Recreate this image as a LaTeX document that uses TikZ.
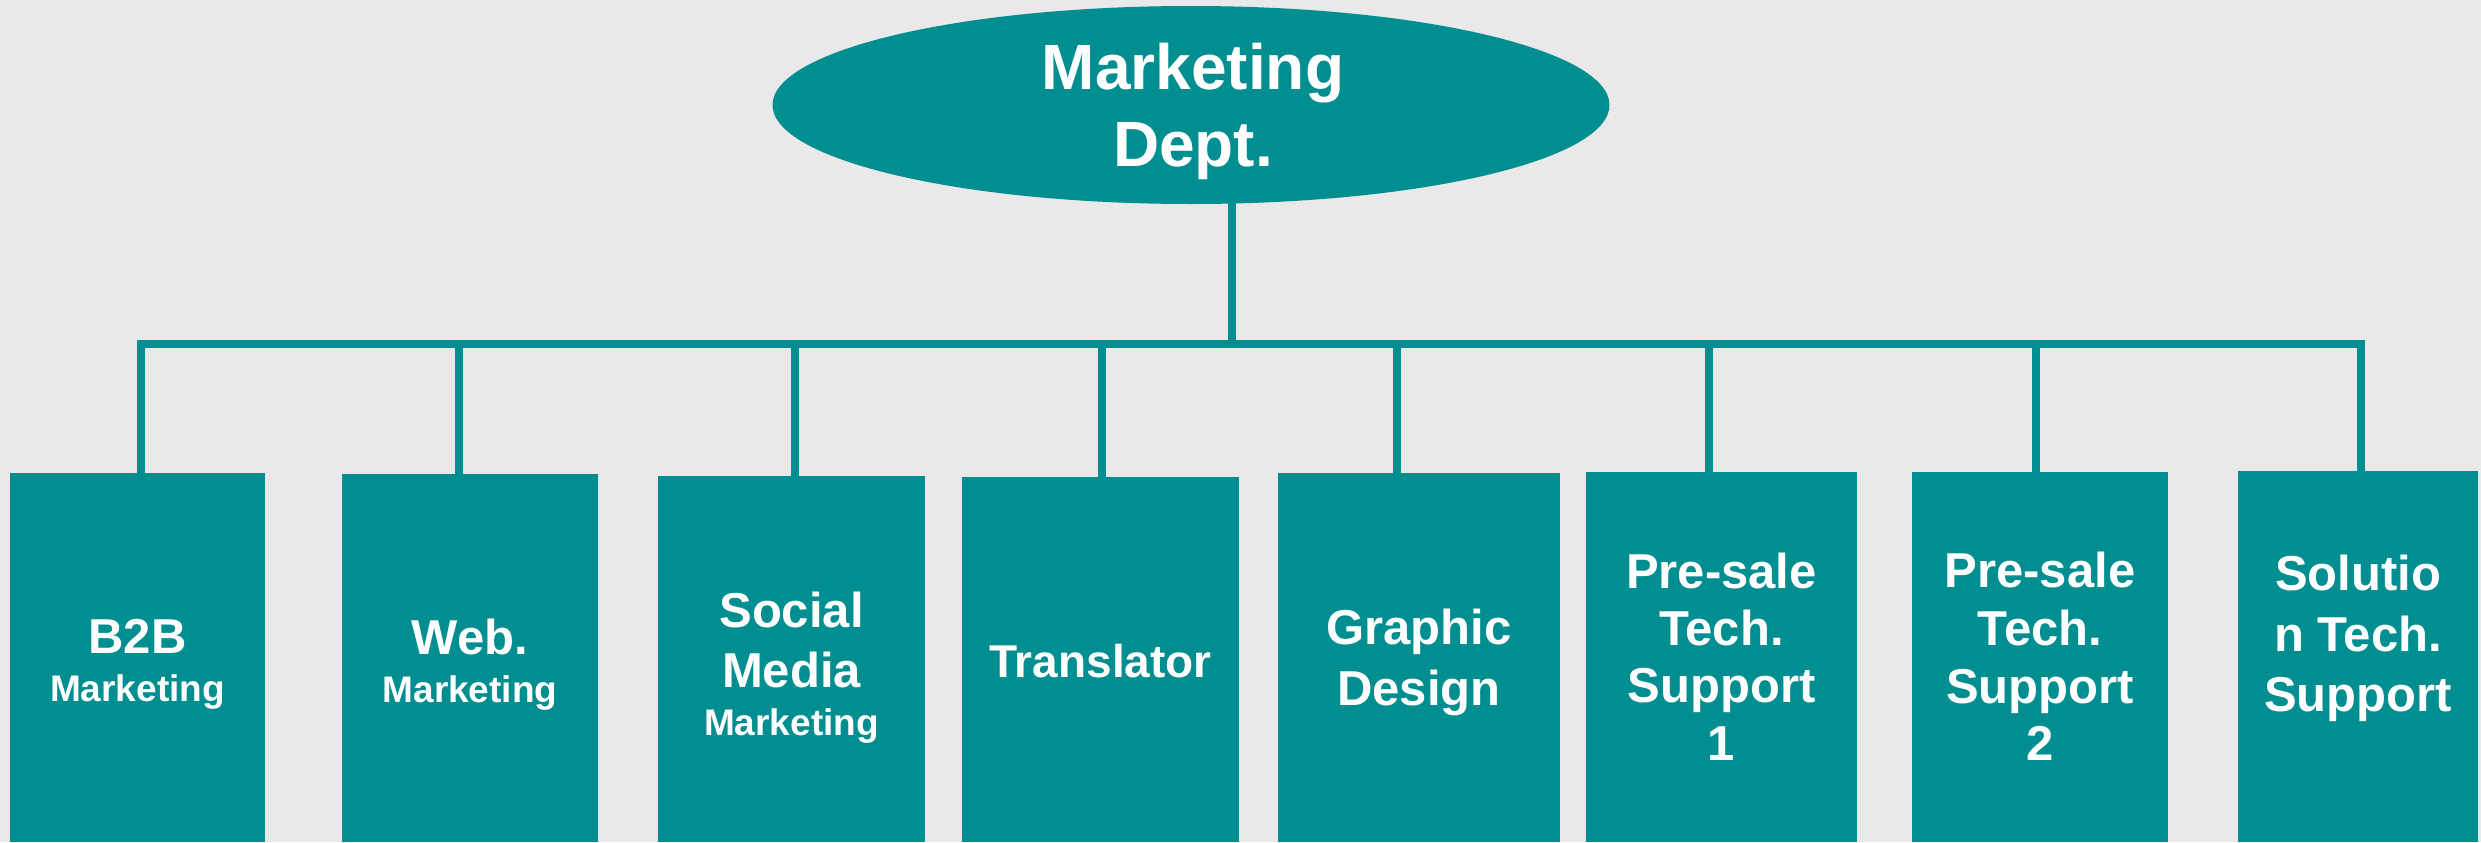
\documentclass[tikz,border=0pt]{standalone}
\usepackage{fontspec}
\setmainfont{Liberation Sans}
\usetikzlibrary{shapes.geometric}
\definecolor{tealbox}{RGB}{0,142,144}
\definecolor{pagebg}{RGB}{233,233,233}
\newcommand\orgbox[5]{\node[unitbox, minimum width={(#4-#2)*0.3pt}, minimum height={(#5-#3)*0.3pt}] (#1) at (#2,#3) {};}
\newcommand\bigtxt{\fontsize{14.7}{14.7}\selectfont\bfseries}
\newcommand\smalltxt{\fontsize{11.1}{11.1}\selectfont\bfseries}
\begin{document}
\begin{tikzpicture}[x=0.3pt,y=-0.3pt,
  unitbox/.style={rectangle, fill=tealbox, draw=none, inner sep=0pt, outer sep=0pt, anchor=north west},
  rootshape/.style={ellipse, fill=tealbox, draw=none, inner sep=0pt, outer sep=0pt},
  lbl/.style={text=white, anchor=base, inner sep=0pt, outer sep=0pt},
  conn/.style={draw=tealbox, line width=2.4pt, line join=miter, line cap=butt}]
\useasboundingbox (0,0) rectangle (2481,842);
\fill[pagebg] (0,0) rectangle (2481,842);

% root
\node[rootshape, minimum width=251.1pt, minimum height=59.4pt] (root) at (1191,105) {};
\node[lbl, font=\fontsize{19.2}{19.2}\selectfont\bfseries] (rootA) at (1193,89) {Marketing};
\node[lbl, font=\fontsize{19.2}{19.2}\selectfont\bfseries] (rootB) at (1193,166) {Dept.};

% boxes
\orgbox{b1}{10}{473}{265}{842}
\orgbox{b2}{342}{474}{598}{842}
\orgbox{b3}{658}{476}{925}{842}
\orgbox{b4}{962}{477}{1239}{842}
\orgbox{b5}{1278}{473}{1560}{842}
\orgbox{b6}{1586}{472}{1857}{842}
\orgbox{b7}{1912}{472}{2168}{842}
\orgbox{b8}{2238}{471}{2478}{842}

% connectors
\coordinate (hub) at (1232,344);
\coordinate (t1) at (141,344);
\coordinate (t2) at (459,344);
\coordinate (t3) at (795,344);
\coordinate (t4) at (1102,344);
\coordinate (t5) at (1397,344);
\coordinate (t6) at (1709,344);
\coordinate (t7) at (2036,344);
\coordinate (t8) at (2361,344);
\draw[conn] (hub |- root.south) ++(0,-3) -- (hub);
\draw[conn] (t1 |- b1.north) -- (t1) -- (t8) -- (t8 |- b8.north);
\foreach \i in {2,...,7} {\draw[conn] (t\i) -- (t\i |- b\i.north);}

% texts
\node[lbl, font=\bigtxt] (b1A) at (137.5,653) {B2B};
\node[lbl, font=\smalltxt] (b1B) at (137.5,701) {Marketing};

\node[lbl, font=\bigtxt] (b2A) at (470,654) {Web.};
\node[lbl, font=\smalltxt] (b2B) at (470,702) {Marketing};

\node[lbl, font=\bigtxt] (b3A) at (791.5,627) {Social};
\node[lbl, font=\bigtxt] (b3B) at (791.5,687) {Media};
\node[lbl, font=\smalltxt] (b3C) at (791.5,735) {Marketing};

\node[lbl, font=\fontsize{13.8}{13.8}\selectfont\bfseries] (b4A) at (1100.5,677) {Translator};

\node[lbl, font=\bigtxt] (b5A) at (1419,644) {Graphic};
\node[lbl, font=\bigtxt] (b5B) at (1419,705) {Design};

\node[lbl, font=\bigtxt] (b6A) at (1721.5,588) {Pre-sale};
\node[lbl, font=\bigtxt] (b6B) at (1721.5,645) {Tech.};
\node[lbl, font=\bigtxt] (b6C) at (1721.5,702) {Support};
\node[lbl, font=\bigtxt] (b6D) at (1721.5,760) {1};

\node[lbl, font=\bigtxt] (b7A) at (2040,587) {Pre-sale};
\node[lbl, font=\bigtxt] (b7B) at (2040,645) {Tech.};
\node[lbl, font=\bigtxt] (b7C) at (2040,703) {Support};
\node[lbl, font=\bigtxt] (b7D) at (2040,760) {2};

\node[lbl, font=\bigtxt] (b8A) at (2358,590) {Solutio};
\node[lbl, font=\bigtxt] (b8B) at (2358,651) {n Tech.};
\node[lbl, font=\bigtxt] (b8C) at (2358,711) {Support};
\end{tikzpicture}
\end{document}
